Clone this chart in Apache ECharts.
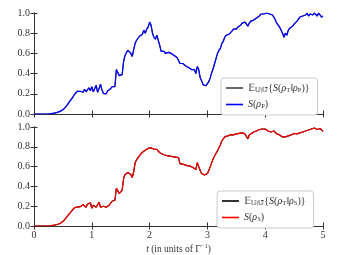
<!DOCTYPE html>
<html><head><meta charset="utf-8">
<script src="https://cdn.jsdelivr.net/npm/echarts@6/dist/echarts.min.js"></script>
<style>html,body{margin:0;padding:0;background:#fff}#c{width:340px;height:255px}</style>
</head><body><div id="c"></div>
<script>
// top panel: S(rho_P) (blue) ; expectation curve lies underneath
const sP = [[0,0],[0.2,0],[0.25,0.001],[0.3,0.004],[0.35,0.009],[0.4,0.016],[0.425,0.02],[0.45,0.026],[0.475,0.033],[0.5,0.042],[0.525,0.055],[0.55,0.07],[0.575,0.09],[0.6,0.11],[0.625,0.13],[0.65,0.15],[0.675,0.17],[0.7,0.195],[0.725,0.21],[0.75,0.225],[0.775,0.215],[0.8,0.225],[0.825,0.21],[0.85,0.215],[0.875,0.245],[0.9,0.22],[0.925,0.21],[0.95,0.26],[0.975,0.23],[1.0,0.27],[1.025,0.22],[1.05,0.25],[1.075,0.285],[1.1,0.215],[1.125,0.25],[1.15,0.295],[1.175,0.24],[1.2,0.205],[1.225,0.22],[1.25,0.2],[1.275,0.23],[1.3,0.215],[1.325,0.25],[1.35,0.27],[1.375,0.26],[1.4,0.27],[1.425,0.44],[1.45,0.43],[1.475,0.38],[1.5,0.37],[1.525,0.39],[1.55,0.52],[1.575,0.58],[1.6,0.61],[1.625,0.63],[1.65,0.62],[1.675,0.6],[1.7,0.57],[1.725,0.64],[1.75,0.7],[1.775,0.73],[1.8,0.75],[1.825,0.77],[1.85,0.76],[1.875,0.79],[1.9,0.83],[1.925,0.8],[1.95,0.84],[1.975,0.86],[2.0,0.91],[2.025,0.88],[2.05,0.8],[2.075,0.76],[2.1,0.74],[2.125,0.78],[2.15,0.79],[2.175,0.68],[2.2,0.62],[2.225,0.63],[2.25,0.62],[2.275,0.6],[2.3,0.595],[2.325,0.61],[2.35,0.6],[2.375,0.6],[2.4,0.59],[2.425,0.58],[2.45,0.565],[2.475,0.56],[2.5,0.53],[2.525,0.5],[2.55,0.51],[2.575,0.5],[2.6,0.49],[2.625,0.475],[2.65,0.48],[2.675,0.46],[2.7,0.455],[2.725,0.44],[2.75,0.43],[2.775,0.44],[2.8,0.4],[2.825,0.47],[2.85,0.44],[2.875,0.36],[2.9,0.33],[2.925,0.29],[2.95,0.285],[2.975,0.28],[3.0,0.29],[3.025,0.32],[3.05,0.36],[3.075,0.41],[3.1,0.45],[3.125,0.5],[3.15,0.55],[3.175,0.6],[3.2,0.63],[3.225,0.65],[3.25,0.7],[3.275,0.72],[3.3,0.76],[3.325,0.78],[3.35,0.79],[3.375,0.79],[3.4,0.8],[3.425,0.82],[3.45,0.84],[3.475,0.85],[3.5,0.84],[3.525,0.86],[3.55,0.87],[3.575,0.88],[3.6,0.9],[3.625,0.9],[3.65,0.91],[3.675,0.89],[3.7,0.87],[3.725,0.9],[3.75,0.92],[3.775,0.92],[3.8,0.93],[3.825,0.94],[3.85,0.95],[3.875,0.96],[3.9,0.97],[3.925,0.99],[3.95,1.0],[3.975,0.99],[4.0,1.0],[4.025,1.0],[4.05,1.0],[4.075,0.99],[4.1,1.0],[4.125,0.98],[4.15,0.96],[4.175,0.93],[4.2,0.9],[4.225,0.88],[4.25,0.86],[4.275,0.85],[4.3,0.8],[4.325,0.76],[4.35,0.8],[4.375,0.78],[4.4,0.83],[4.425,0.85],[4.45,0.84],[4.475,0.87],[4.5,0.89],[4.525,0.9],[4.55,0.92],[4.575,0.94],[4.6,0.96],[4.625,0.95],[4.65,0.97],[4.675,0.96],[4.7,0.98],[4.725,1.0],[4.75,0.97],[4.775,0.99],[4.8,1.0],[4.825,0.98],[4.85,1.0],[4.875,0.99],[4.9,0.97],[4.925,1.0],[4.95,0.99],[4.975,0.96],[5.0,0.97]];
// bottom panel: S(rho_S) (red)
const sS = [[0,0],[0.25,0],[0.3,0.003],[0.35,0.008],[0.4,0.015],[0.45,0.025],[0.5,0.045],[0.55,0.08],[0.6,0.115],[0.625,0.13],[0.65,0.15],[0.675,0.17],[0.7,0.185],[0.725,0.195],[0.75,0.19],[0.775,0.2],[0.8,0.195],[0.825,0.19],[0.85,0.215],[0.875,0.2],[0.9,0.19],[0.925,0.22],[0.95,0.2],[0.975,0.235],[1.0,0.18],[1.025,0.21],[1.05,0.23],[1.075,0.19],[1.1,0.21],[1.125,0.24],[1.15,0.19],[1.175,0.185],[1.2,0.2],[1.225,0.18],[1.25,0.19],[1.275,0.185],[1.3,0.21],[1.325,0.22],[1.35,0.25],[1.375,0.245],[1.4,0.26],[1.425,0.38],[1.45,0.36],[1.475,0.33],[1.5,0.325],[1.525,0.36],[1.55,0.48],[1.575,0.52],[1.6,0.53],[1.625,0.54],[1.65,0.53],[1.675,0.52],[1.7,0.49],[1.725,0.55],[1.75,0.64],[1.775,0.67],[1.8,0.69],[1.825,0.71],[1.85,0.73],[1.875,0.745],[1.9,0.76],[1.925,0.765],[1.95,0.78],[1.975,0.785],[2.0,0.805],[2.025,0.79],[2.05,0.775],[2.075,0.775],[2.1,0.78],[2.125,0.775],[2.15,0.755],[2.175,0.74],[2.2,0.73],[2.25,0.72],[2.3,0.71],[2.35,0.705],[2.4,0.7],[2.45,0.695],[2.5,0.69],[2.525,0.63],[2.55,0.64],[2.6,0.62],[2.65,0.61],[2.7,0.605],[2.75,0.59],[2.775,0.58],[2.8,0.57],[2.825,0.64],[2.85,0.6],[2.875,0.56],[2.9,0.53],[2.925,0.51],[2.95,0.515],[2.975,0.51],[3.0,0.53],[3.025,0.56],[3.05,0.6],[3.075,0.64],[3.1,0.68],[3.125,0.71],[3.15,0.73],[3.175,0.76],[3.2,0.79],[3.225,0.82],[3.25,0.86],[3.275,0.88],[3.3,0.9],[3.325,0.9],[3.35,0.91],[3.4,0.92],[3.45,0.92],[3.5,0.93],[3.55,0.935],[3.6,0.94],[3.625,0.95],[3.65,0.93],[3.675,0.91],[3.7,0.88],[3.725,0.92],[3.75,0.93],[3.8,0.95],[3.85,0.96],[3.9,0.975],[3.925,0.985],[3.95,0.98],[4.0,0.98],[4.05,0.96],[4.1,0.95],[4.15,0.96],[4.2,0.93],[4.25,0.92],[4.3,0.9],[4.325,0.89],[4.35,0.9],[4.4,0.91],[4.45,0.92],[4.5,0.935],[4.55,0.93],[4.6,0.94],[4.65,0.95],[4.7,0.96],[4.75,0.97],[4.8,0.98],[4.85,0.99],[4.875,0.98],[4.9,0.975],[4.95,0.985],[5.0,0.955]];
const xTicks = [0,1,2,3,4,5];
const yTicks = [0,0.2,0.4,0.6,0.8,1.0];

const FONT = 'Liberation Serif';
const AX = '#333';
const grids = [
  {left:34, top:13, width:289, height:101},
  {left:34, top:127, width:289, height:102}
];
function xAx(gi, pos, labels){
  return {type:'value', gridIndex:gi, position:pos, min:0, max:5, interval:1,
    axisLine:{show:true, lineStyle:{color:AX, width:1}},
    axisTick:{show:true, inside:true, length:3.5, lineStyle:{color:AX}},
    splitLine:{show:false},
    axisLabel:{show:labels, fontFamily:FONT, fontSize:10, color:'#333', margin:4},
    name: labels ? '{i|t} (in units of Γ{sup|−1})' : '',
    nameLocation:'middle', nameGap:17,
    nameTextStyle:{fontFamily:FONT, fontSize:9.5, color:'#333',
      rich:{i:{fontStyle:'italic', fontFamily:FONT, fontSize:9.5, color:'#333'},
            sup:{fontFamily:FONT, fontSize:6.5, color:'#333', padding:[0,0,5,0]}}}
  };
}
function yAx(gi, pos, labels){
  return {type:'value', gridIndex:gi, position:pos, min:0, max:1, interval:0.2,
    axisLine:{show:true, lineStyle:{color:AX, width:1}},
    axisTick:{show:true, inside:true, length:3.5, lineStyle:{color:AX}},
    splitLine:{show:false},
    axisLabel:{show:labels, fontFamily:FONT, fontSize:10, color:'#333', margin:4,
      formatter:v=>v.toFixed(1)}
  };
}
const rich = {
  s:{fontFamily:FONT, fontSize:6.5, color:'#333', padding:[4,0,0,0]},
  n:{fontFamily:FONT, fontSize:10, color:'#333'},
  i:{fontFamily:FONT, fontSize:10, fontStyle:'italic', color:'#333'}
};
const labelMap = {
  EP:'{n|𝔼}{s|𝕌|𝕌̄}{n|{}{i|S}{n|(}{i|ρ}{s|T}{n|‖}{i|ρ}{s|P}{n|)}}',
  SP:'{i|S}{n|(}{i|ρ}{s|P}{n|)}',
  ES:'{n|𝔼}{s|𝕌|𝕌̄}{n|{}{i|S}{n|(}{i|ρ}{s|T}{n|‖}{i|ρ}{s|S}{n|)}}',
  SS:'{i|S}{n|(}{i|ρ}{s|S}{n|)}'
};
function leg(names, left, top){
  return {data:names, orient:'vertical', left:left, top:top,
    itemWidth:17, itemHeight:1.6, icon:'rect', itemGap:6,
    padding:[5,8,5,5], borderColor:'#cccccc', borderWidth:1, borderRadius:3,
    backgroundColor:'#fff', selectedMode:false,
    formatter:n=>labelMap[n],
    textStyle:{fontFamily:FONT, fontSize:10, color:'#333', rich:rich}};
}
function line(name, data, xi, yi, color, z){
  return {name, type:'line', data, xAxisIndex:xi, yAxisIndex:yi, showSymbol:false,
    symbol:'none', lineStyle:{color, width:1.2}, itemStyle:{color}, z, animation:false};
}
const chart = echarts.init(document.getElementById('c'), null, {renderer:'canvas'});
chart.setOption({
  animation:false,
  grid:grids,
  xAxis:[xAx(0,'bottom',false), xAx(0,'top',false), xAx(1,'bottom',true), xAx(1,'top',false)],
  yAxis:[yAx(0,'left',true), yAx(0,'right',false), yAx(1,'left',true), yAx(1,'right',false)],
  legend:[leg(['EP','SP'], 221, 78), leg(['ES','SS'], 217, 191)],
  series:[
    line('EP', sP, 0, 0, '#444', 1),
    line('SP', sP, 0, 0, '#0000ff', 2),
    line('ES', sS, 2, 2, '#000', 1),
    line('SS', sS, 2, 2, '#ff0000', 2)
  ]
});
</script></body></html>
